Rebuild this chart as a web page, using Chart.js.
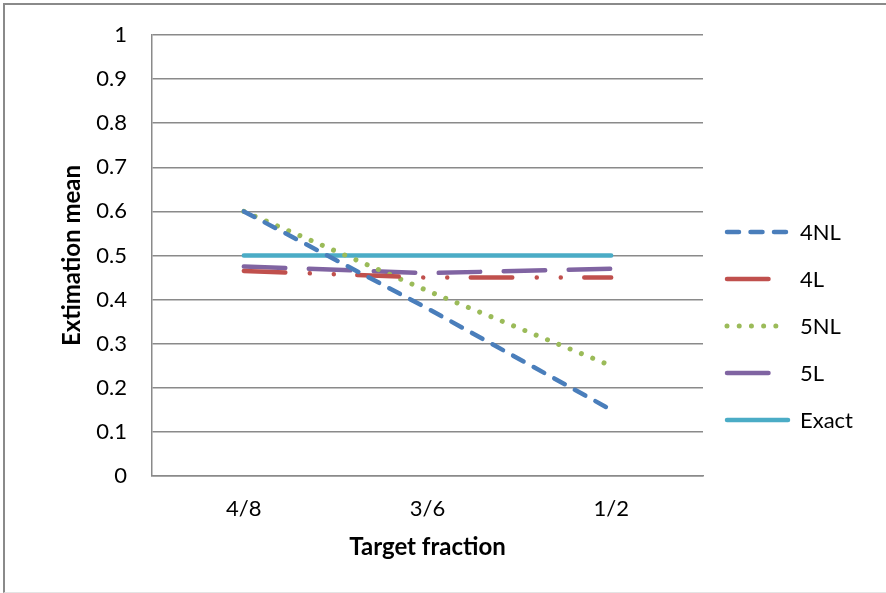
<!DOCTYPE html>
<html>
<head>
<meta charset="utf-8">
<title>Estimation mean by target fraction</title>
<script src="https://cdn.jsdelivr.net/npm/chart.js@4/dist/chart.umd.min.js"></script>
<style>
  html, body { margin: 0; padding: 0; background: #fff; }
  #wrap { position: relative; width: 886px; height: 593px; overflow: hidden; }
  #frame {
    position: absolute; left: 3px; top: 3px; right: -10px; bottom: 0;
    border-left: 2px solid #8a8a8a; border-top: 2px solid #8a8a8a;
    border-bottom: 1px solid #e4e4e4; pointer-events: none;
  }
  canvas { display: block; }
</style>
</head>
<body>
<div id="wrap">
  <canvas id="chart" width="886" height="593"></canvas>
  <div id="frame"></div>
</div>
<script>
// Target fractions shown along the x axis
const categories = ['4/8', '3/6', '1/2'];

// Mean estimate for each condition
const series4NL  = [0.60, 0.38, 0.15];
const series4L   = [0.465, 0.45, 0.45];
const series5NL  = [0.60, 0.42, 0.25];
const series5L   = [0.475, 0.46, 0.47];
const seriesExact = [0.50, 0.50, 0.50];

// Y axis ticks
const yTicks = [0, 0.1, 0.2, 0.3, 0.4, 0.5, 0.6, 0.7, 0.8, 0.9, 1];

const FONT = 'Lato, "Open Sans", "Liberation Sans", sans-serif';

// Bottom edge of the plot area in canvas pixels
const PLOT_BOTTOM = 476;

const baseLine = { fill: false, pointRadius: 0, pointHoverRadius: 0, tension: 0,
                   borderCapStyle: 'round', borderJoinStyle: 'round', borderWidth: 4.5 };

const datasets = [
  Object.assign({}, baseLine, { label: '4NL', data: series4NL, borderColor: '#4a7ebb',
    borderDash: [12, 11.5] }),
  Object.assign({}, baseLine, { label: '4L', data: series4L, borderColor: '#c0504d',
    borderDash: [41.5, 24.5, 0.01, 24, 0.01, 23.5] }),
  Object.assign({}, baseLine, { label: '5NL', data: series5NL, borderColor: '#9bbb59',
    borderWidth: 5, borderDash: [0.01, 12.2] }),
  Object.assign({}, baseLine, { label: '5L', data: series5L, borderColor: '#8064a2',
    borderDash: [41.5, 23.5] }),
  Object.assign({}, baseLine, { label: 'Exact', data: seriesExact, borderColor: '#4bacc6',
    borderWidth: 4.5, borderDash: [] })
];

// Legend to the right of the plot: a short stroke in each series' style plus its name
const sideLegend = {
  id: 'sideLegend',
  afterDraw(chart) {
    const ctx = chart.ctx;
    const x0 = 727, x1 = 788, textX = 800, y0 = 232, step = 47;
    chart.data.datasets.forEach((ds, i) => {
      const y = y0 + i * step;
      ctx.save();
      ctx.strokeStyle = ds.borderColor;
      ctx.lineWidth = ds.borderWidth;
      ctx.lineCap = 'round';
      ctx.setLineDash(ds.borderDash || []);
      ctx.beginPath();
      ctx.moveTo(x0, y);
      ctx.lineTo(x1, y);
      ctx.stroke();
      ctx.restore();
      ctx.save();
      ctx.fillStyle = '#000';
      ctx.font = '22px ' + FONT;
      ctx.textBaseline = 'middle';
      ctx.textAlign = 'left';
      ctx.fillText(ds.label, textX, y + 1);
      ctx.restore();
    });
  }
};

new Chart(document.getElementById('chart'), {
  type: 'line',
  data: { labels: categories, datasets: datasets },
  plugins: [sideLegend],
  options: {
    responsive: false,
    animation: false,
    events: [],
    layout: { padding: { left: 58, right: 183, top: 35, bottom: 0 } },
    plugins: { legend: { display: false }, tooltip: { enabled: false } },
    scales: {
      x: {
        offset: true,
        grid: { display: false, drawTicks: false },
        border: { display: true, color: '#8a8a8a', width: 1.5 },
        ticks: { padding: 20, color: '#000', font: { family: FONT, size: 22 } },
        title: { display: true, text: 'Target fraction', color: '#000', padding: { top: 0, bottom: 31 },
                 font: { family: FONT, size: 24, weight: 'bold' } },
        afterFit(scale) { scale.height = 593 - PLOT_BOTTOM; }
      },
      y: {
        min: 0, max: 1,
        afterBuildTicks(scale) { scale.ticks = yTicks.map(v => ({ value: v })); },
        grid: { color: '#8a8a8a', lineWidth: 1.5, drawTicks: true, tickLength: 22, tickColor: 'rgba(0,0,0,0)' },
        border: { display: true, color: '#8a8a8a', width: 1.5 },
        ticks: { padding: 3, color: '#000', font: { family: FONT, size: 22 },
                 callback: v => String(v) },
        title: { display: true, text: 'Extimation mean', color: '#000', padding: 0,
                 font: { family: FONT, size: 24, weight: 'bold' } },
        afterFit(scale) { scale.width = 94; }
      }
    }
  }
});
</script>
</body>
</html>
